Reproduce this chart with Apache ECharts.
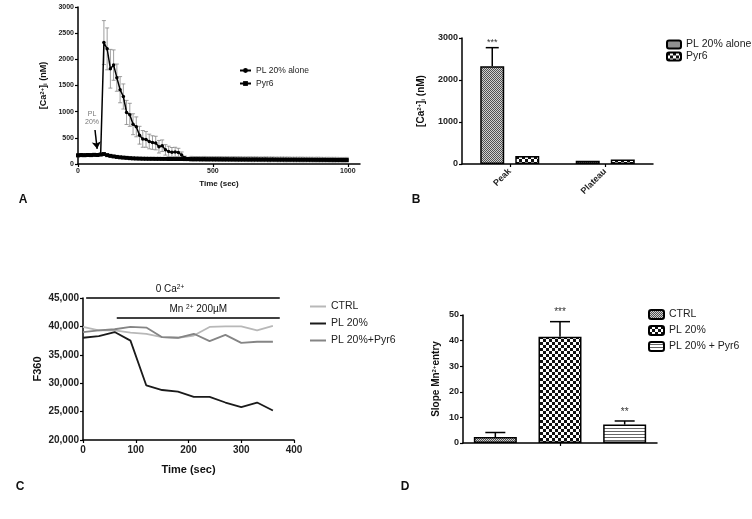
<!DOCTYPE html>
<html>
<head>
<meta charset="utf-8">
<script src="https://cdn.jsdelivr.net/npm/echarts@6/dist/echarts.min.js"></script>
<style>
html, body { margin: 0; padding: 0; background: #fff; }
#main { width: 752px; height: 519px; }
</style>
</head>
<body>
<div id="main"></div>
<script>
// ---- A: 时间曲线 ----
const timeA = [0, 12, 24, 36, 48, 60, 72, 84, 96, 108, 120, 132, 144, 156, 168, 180, 192, 204, 216, 228,
	240, 252, 264, 276, 288, 300, 312, 324, 336, 348, 360, 372, 384, 396, 408, 420, 432, 444, 456, 468,
	480, 492, 504, 516, 528, 540, 552, 564, 576, 588, 600, 612, 624, 636, 648, 660, 672, 684, 696, 708,
	720, 732, 744, 756, 768, 780, 792, 804, 816, 828, 840, 852, 864, 876, 888, 900, 912, 924, 936, 948,
	960, 972, 984, 996];
const plAlone = [170, 175, 170, 172, 170, 178, 175, 185,
	2320, 2200, 1820, 1890, 1650, 1420, 1290, 985, 940, 760, 710, 550, 480, 470, 430, 410, 400, 330, 350,
	270, 240, 225, 230, 220, 170, 120, 105,
	100, 98, 99, 97, 98, 96, 97, 95, 96, 95, 94, 95, 93, 94, 92, 93, 92, 91, 92, 90,
	91, 90, 89, 90, 88, 89, 88, 87, 88, 86, 87, 86, 85, 86, 85, 84, 85, 84, 83, 84,
	83, 82, 83, 82, 81, 82, 81, 80, 81];
const plAloneErr = [20, 20, 20, 20, 20, 20, 20, 20,
	420, 400, 370, 290, 260, 250, 240, 230, 220, 200, 190, 170, 160, 150, 140, 130, 130, 120, 110,
	100, 100, 90, 90, 80, 60, 30, 20,
	45, 45, 44, 45, 46, 45, 44, 45, 45, 46, 45, 44, 45, 45, 46, 45, 44, 45, 45, 46,
	45, 44, 45, 45, 46, 45, 44, 45, 45, 46, 45, 44, 45, 45, 46, 45, 44, 45, 45, 46,
	45, 44, 45, 45, 46, 45, 44, 45, 45];
const pyr6 = [165, 170, 168, 172, 170, 175, 172, 180,
	190, 170, 155, 145, 135, 128, 122, 117, 112, 108, 105, 103, 101, 100,
	99, 99, 98, 98, 97, 97, 96, 96, 95, 95, 95, 94, 94, 93, 93, 93, 92, 92, 91, 91,
	91, 90, 90, 89, 89, 89, 88, 88, 87, 87, 87, 86, 86, 86, 85, 85, 85, 84, 84, 84,
	83, 83, 83, 82, 82, 82, 81, 81, 81, 80, 80, 80, 79, 79, 79, 78, 78, 78, 77, 77,
	77, 76];

// ---- B: 柱状图 ----
const catB = ['Peak', 'Plateau'];
const barPL = [2330, 75];
const barPLErr = [440, 0];
const barPyr6 = [190, 110];

// ---- C: F360 ----
const timeC = [0, 30, 60, 90, 120, 150, 180, 210, 240, 270, 300, 330, 360];
const ctrlC = [39900, 39300, 39300, 38900, 38700, 38100, 38000, 38400, 39900, 40000, 40000, 39300, 40100];
const plC = [38000, 38300, 39000, 37500, 29600, 28800, 28500, 27600, 27600, 26600, 25800, 26600, 25200];
const plPyrC = [39000, 39300, 39500, 39900, 39800, 38100, 38000, 38700, 37400, 38500, 37100, 37300, 37300];

// ---- D: Slope ----
const catD = ['CTRL', 'PL 20%', 'PL 20% + Pyr6'];
const slopeD = [2.3, 41.5, 7.2];
const slopeErrD = [1.8, 5.9, 1.4];
const starsD = ['', '***', '**'];

const legendText = {
	aPL: 'PL 20% alone', aPyr: 'Pyr6',
	bPL: 'PL 20% alone', bPyr: 'Pyr6',
	cCtrl: 'CTRL', cPL: 'PL 20%', cPyr: 'PL 20%+Pyr6',
	dCtrl: 'CTRL', dPL: 'PL 20%', dPyr: 'PL 20% + Pyr6'
};

// 填充图案
function makePattern(kind) {
	const c = document.createElement('canvas');
	const ctx = c.getContext('2d');
	if (kind === 'fine') {
		c.width = 2; c.height = 2;
		ctx.fillStyle = '#d0d0d0'; ctx.fillRect(0, 0, 2, 2);
		ctx.fillStyle = '#505050'; ctx.fillRect(0, 0, 1, 1); ctx.fillRect(1, 1, 1, 1);
	} else if (kind === 'check') {
		c.width = 6; c.height = 6;
		ctx.fillStyle = '#fff'; ctx.fillRect(0, 0, 6, 6);
		ctx.fillStyle = '#111'; ctx.fillRect(0, 0, 3, 3); ctx.fillRect(3, 3, 3, 3);
	} else {
		c.width = 4; c.height = 3;
		ctx.fillStyle = '#fff'; ctx.fillRect(0, 0, 4, 3);
		ctx.fillStyle = '#666'; ctx.fillRect(0, 2, 4, 1);
	}
	return { image: c, repeat: 'repeat' };
}
const finePat = makePattern('fine');
const checkPat = makePattern('check');
const stripePat = makePattern('stripe');

const FONT = 'Liberation Sans, Arial, sans-serif';
const axisLine = { show: true, lineStyle: { color: '#000', width: 1.5 } };
const axisTick = { show: true, length: 3, lineStyle: { color: '#000', width: 1.2 } };
const supRich = {
	sup: { fontSize: 6, verticalAlign: 'top', fontWeight: 'bold' },
	sub: { fontSize: 6, verticalAlign: 'bottom', fontWeight: 'bold' }
};
const plain = function (v) { return String(v); };

function pairs(xs, ys) {
	return xs.map(function (x, i) { return [x, ys[i]]; });
}
function triples(xs, ys, es) {
	return xs.map(function (x, i) { return [x, ys[i], es[i]]; });
}

// A 误差线
function renderErrA(params, api) {
	const x = api.value(0), y = api.value(1), e = api.value(2);
	const hi = api.coord([x, y + e]);
	const lo = api.coord([x, y - e]);
	const style = { stroke: '#858585', lineWidth: 0.8 };
	return {
		type: 'group', children: [
			{ type: 'line', shape: { x1: hi[0], y1: hi[1], x2: lo[0], y2: lo[1] }, style: style },
			{ type: 'line', shape: { x1: hi[0] - 2, y1: hi[1], x2: hi[0] + 2, y2: hi[1] }, style: style },
			{ type: 'line', shape: { x1: lo[0] - 2, y1: lo[1], x2: lo[0] + 2, y2: lo[1] }, style: style }
		]
	};
}

// 柱子误差线 (只画上半部分)
function barErr(offset, capHalf, stars, gap, fontSize) {
	return function (params, api) {
		const i = api.value(0), v = api.value(1), e = api.value(2);
		const children = [];
		if (e > 0) {
			const base = api.coord([i, v]);
			const top = api.coord([i, v + e]);
			const x = base[0] + offset;
			const style = { stroke: '#000', lineWidth: 1.5 };
			children.push({ type: 'line', shape: { x1: x, y1: base[1], x2: x, y2: top[1] }, style: style });
			children.push({ type: 'line', shape: { x1: x - capHalf, y1: top[1], x2: x + capHalf, y2: top[1] }, style: style });
			if (stars[params.dataIndex]) {
				children.push({
					type: 'text', x: x, y: top[1] - gap,
					style: { text: stars[params.dataIndex], fill: '#333', fontSize: fontSize, fontFamily: FONT, align: 'center', verticalAlign: 'bottom' }
				});
			}
		}
		return { type: 'group', children: children };
	};
}

const chart = echarts.init(document.getElementById('main'));
const option = {
	animation: false,
	textStyle: { fontFamily: FONT },
	grid: [
		{ left: 78, top: 7, width: 282, height: 157, outerBoundsMode: 'none' },
		{ left: 462, top: 38, width: 191, height: 126, outerBoundsMode: 'none' },
		{ left: 83, top: 298, width: 211, height: 142, outerBoundsMode: 'none' },
		{ left: 463, top: 315, width: 194, height: 128, outerBoundsMode: 'none' }
	],
	xAxis: [
		{
			type: 'value', gridIndex: 0, min: 0, max: 1045, interval: 500,
			axisLine: axisLine, axisTick: Object.assign({ customValues: [0, 500, 1000] }, axisTick),
			axisLabel: { customValues: [0, 500, 1000], fontSize: 7, fontWeight: 'bold', color: '#222', margin: 4, formatter: plain },
			splitLine: { show: false },
			name: 'Time (sec)', nameLocation: 'middle', nameGap: 16,
			nameTextStyle: { fontSize: 8, fontWeight: 'bold', color: '#111' }
		},
		{
			type: 'category', gridIndex: 1, data: catB,
			axisLine: axisLine, axisTick: Object.assign({ alignWithLabel: true }, axisTick),
			axisLabel: { rotate: 45, fontSize: 9, fontWeight: 'bold', color: '#222', margin: 6 }
		},
		{
			type: 'value', gridIndex: 2, min: 0, max: 400, interval: 100,
			axisLine: axisLine, axisTick: axisTick,
			axisLabel: { fontSize: 10, fontWeight: 'bold', color: '#222', margin: 5, formatter: plain },
			splitLine: { show: false },
			name: 'Time (sec)', nameLocation: 'middle', nameGap: 24,
			nameTextStyle: { fontSize: 11, fontWeight: 'bold', color: '#111' }
		},
		{
			type: 'category', gridIndex: 3, data: catD,
			axisLine: axisLine,
			axisTick: Object.assign({ alignWithLabel: true, interval: function (i) { return i === 1; } }, axisTick),
			axisLabel: { show: false }
		}
	],
	yAxis: [
		{
			type: 'value', gridIndex: 0, min: 0, max: 3000, interval: 500,
			axisLine: axisLine, axisTick: axisTick,
			axisLabel: { fontSize: 7, fontWeight: 'bold', color: '#222', margin: 4, formatter: plain },
			splitLine: { show: false },
			name: '[Ca{sup|2+}]{sub|i} (nM)', nameLocation: 'middle', nameGap: 30,
			nameTextStyle: { fontSize: 9, fontWeight: 'bold', color: '#111', rich: supRich }
		},
		{
			type: 'value', gridIndex: 1, min: 0, max: 3000, interval: 1000,
			axisLine: axisLine, axisTick: axisTick,
			axisLabel: { fontSize: 9, fontWeight: 'bold', color: '#222', margin: 4, formatter: plain },
			splitLine: { show: false },
			name: '[Ca{sup|2+}]{sub|i} (nM)', nameLocation: 'middle', nameGap: 36,
			nameTextStyle: { fontSize: 10, fontWeight: 'bold', color: '#111', rich: supRich }
		},
		{
			type: 'value', gridIndex: 2, min: 20000, max: 45000, interval: 5000,
			axisLine: axisLine, axisTick: axisTick,
			axisLabel: {
				fontSize: 10, fontWeight: 'bold', color: '#222', margin: 4,
				formatter: function (v) { return v.toLocaleString('en-US'); }
			},
			splitLine: { show: false },
			name: 'F360', nameLocation: 'middle', nameGap: 40,
			nameTextStyle: { fontSize: 11, fontWeight: 'bold', color: '#111' }
		},
		{
			type: 'value', gridIndex: 3, min: 0, max: 50, interval: 10,
			axisLine: axisLine, axisTick: axisTick,
			axisLabel: { fontSize: 9, fontWeight: 'bold', color: '#222', margin: 4, formatter: plain },
			splitLine: { show: false },
			name: 'Slope Mn{sup|2+}entry', nameLocation: 'middle', nameGap: 22,
			nameTextStyle: { fontSize: 10, fontWeight: 'bold', color: '#111', rich: supRich }
		}
	],
	legend: [
		{
			data: ['aPL', 'aPyr'], left: 239, top: 66, orient: 'vertical', padding: 0,
			itemWidth: 11, itemHeight: 6, itemGap: 4,
			textStyle: { fontSize: 8.5, color: '#222' },
			formatter: function (n) { return legendText[n]; }
		},
		{
			data: ['bPL', 'bPyr'], left: 666, top: 39, orient: 'vertical', padding: 0,
			itemWidth: 14, itemHeight: 8, itemGap: 1,
			textStyle: { fontSize: 10.5, color: '#222' },
			formatter: function (n) { return legendText[n]; }
		},
		{
			data: [{ name: 'cCtrl', icon: 'rect' }, { name: 'cPL', icon: 'rect' }, { name: 'cPyr', icon: 'rect' }],
			left: 310, top: 301, orient: 'vertical', padding: 0,
			itemWidth: 16, itemHeight: 2, itemGap: 6,
			textStyle: { fontSize: 10.5, color: '#222' },
			formatter: function (n) { return legendText[n]; }
		},
		{
			data: ['dCtrl', 'dPL', 'dPyr'], left: 648, top: 309, orient: 'vertical', padding: 0,
			itemWidth: 15, itemHeight: 9, itemGap: 5,
			textStyle: { fontSize: 10.5, color: '#222' },
			formatter: function (n) { return legendText[n]; }
		}
	],
	series: [
		// A
		{
			name: 'aPL', type: 'line', xAxisIndex: 0, yAxisIndex: 0,
			data: pairs(timeA, plAlone), symbol: 'circle', symbolSize: 3.5, z: 4,
			lineStyle: { color: '#000', width: 1.5 }, itemStyle: { color: '#000' },
			markLine: {
				silent: true, symbol: ['none', 'arrow'], symbolSize: 7,
				lineStyle: { color: '#000', width: 1.5, type: 'solid' }, label: { show: false },
				data: [[{ coord: [63, 650] }, { coord: [71, 290] }]]
			}
		},
		{
			name: 'aPyr', type: 'line', xAxisIndex: 0, yAxisIndex: 0,
			data: pairs(timeA, pyr6), symbol: 'rect', symbolSize: 4, z: 4,
			lineStyle: { color: '#000', width: 1.5 }, itemStyle: { color: '#000' }
		},
		{
			name: 'aErr', type: 'custom', xAxisIndex: 0, yAxisIndex: 0, z: 3,
			data: triples(timeA, plAlone, plAloneErr), encode: { x: 0, y: 1 },
			renderItem: renderErrA, silent: true
		},
		// B
		{
			name: 'bPL', type: 'bar', xAxisIndex: 1, yAxisIndex: 1, data: barPL,
			barWidth: 24, barGap: '46%',
			itemStyle: { color: finePat, borderColor: '#000', borderWidth: 1.5 }
		},
		{
			name: 'bPyr', type: 'bar', xAxisIndex: 1, yAxisIndex: 1, data: barPyr6,
			barWidth: 24, barGap: '46%',
			itemStyle: { color: checkPat, borderColor: '#000', borderWidth: 1.5 }
		},
		{
			name: 'bErr', type: 'custom', xAxisIndex: 1, yAxisIndex: 1, z: 5,
			data: triples([0, 1], barPL, barPLErr), encode: { x: 0, y: 1 },
			renderItem: barErr(-17.5, 6.5, ['***', ''], 1, 9), silent: true
		},
		// C
		{
			name: 'cCtrl', type: 'line', xAxisIndex: 2, yAxisIndex: 2,
			data: pairs(timeC, ctrlC), symbol: 'none',
			lineStyle: { color: '#b8b8b8', width: 1.8 }, itemStyle: { color: '#b8b8b8' },
			markLine: {
				silent: true, symbol: ['none', 'none'],
				lineStyle: { color: '#000', width: 1.5, type: 'solid' },
				label: {
					show: true, position: 'insideMiddleTop', distance: 4, color: '#111', fontSize: 10,
					rich: { sup: { fontSize: 6.5, verticalAlign: 'top', color: '#111' } }
				},
				data: [
					[{ coord: [6, 45000], label: { formatter: '0 Ca{sup|2+}', offset: [-13, 0] } }, { coord: [373, 45000] }],
					[{ coord: [64, 41500], label: { formatter: 'Mn {sup|2+} 200\u00b5M' } }, { coord: [373, 41500] }]
				]
			}
		},
		{
			name: 'cPL', type: 'line', xAxisIndex: 2, yAxisIndex: 2,
			data: pairs(timeC, plC), symbol: 'none',
			lineStyle: { color: '#1a1a1a', width: 1.8 }, itemStyle: { color: '#1a1a1a' }
		},
		{
			name: 'cPyr', type: 'line', xAxisIndex: 2, yAxisIndex: 2,
			data: pairs(timeC, plPyrC), symbol: 'none',
			lineStyle: { color: '#858585', width: 1.8 }, itemStyle: { color: '#858585' }
		},
		// D
		{
			name: 'dCtrl', type: 'bar', xAxisIndex: 3, yAxisIndex: 3,
			data: [slopeD[0], '-', '-'], barWidth: 43, barGap: '-100%',
			itemStyle: { color: finePat, borderColor: '#000', borderWidth: 1.5 }
		},
		{
			name: 'dPL', type: 'bar', xAxisIndex: 3, yAxisIndex: 3,
			data: ['-', slopeD[1], '-'], barWidth: 43, barGap: '-100%',
			itemStyle: { color: checkPat, borderColor: '#000', borderWidth: 1.5 }
		},
		{
			name: 'dPyr', type: 'bar', xAxisIndex: 3, yAxisIndex: 3,
			data: ['-', '-', slopeD[2]], barWidth: 43, barGap: '-100%',
			itemStyle: { color: stripePat, borderColor: '#000', borderWidth: 1.5 }
		},
		{
			name: 'dErr', type: 'custom', xAxisIndex: 3, yAxisIndex: 3, z: 5,
			data: triples([0, 1, 2], slopeD, slopeErrD), encode: { x: 0, y: 1 },
			renderItem: barErr(0, 10, starsD, 4, 10), silent: true
		}
	],
	graphic: [
		{ type: 'text', x: 92, y: 114, style: { text: 'PL', fill: '#777', fontSize: 7, fontFamily: FONT, align: 'center', verticalAlign: 'middle' } },
		{ type: 'text', x: 92, y: 122, style: { text: '20%', fill: '#777', fontSize: 7, fontFamily: FONT, align: 'center', verticalAlign: 'middle' } },
		{ type: 'text', x: 23, y: 200, style: { text: 'A', fill: '#111', fontSize: 12, fontWeight: 'bold', fontFamily: FONT, align: 'center', verticalAlign: 'middle' } },
		{ type: 'text', x: 416, y: 200, style: { text: 'B', fill: '#111', fontSize: 12, fontWeight: 'bold', fontFamily: FONT, align: 'center', verticalAlign: 'middle' } },
		{ type: 'text', x: 20, y: 487, style: { text: 'C', fill: '#111', fontSize: 12, fontWeight: 'bold', fontFamily: FONT, align: 'center', verticalAlign: 'middle' } },
		{ type: 'text', x: 405, y: 487, style: { text: 'D', fill: '#111', fontSize: 12, fontWeight: 'bold', fontFamily: FONT, align: 'center', verticalAlign: 'middle' } }
	]
};
chart.setOption(option);
</script>
</body>
</html>
